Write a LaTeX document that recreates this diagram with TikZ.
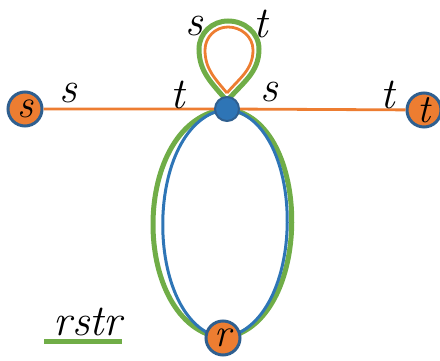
\documentclass[tikz,border=0pt]{standalone}
\usepackage{fontspec}
\definecolor{myorange}{HTML}{ED7D31}
\definecolor{myblue}{HTML}{2E75B6}
\definecolor{mydark}{HTML}{2F5F8F}
\definecolor{mygreen}{HTML}{70AD47}
\begin{document}
\begin{tikzpicture}[x=1pt,y=1pt,
  vert/.style={circle,draw=mydark,fill=myorange,line width=3pt,minimum size=34pt,inner sep=0pt,font=\fontsize{40}{40}\selectfont\itshape},
  hub/.style={circle,draw=mydark,fill=myblue,line width=2pt,minimum size=24pt,inner sep=0pt},
  lab/.style={font=\fontsize{44}{44}\selectfont\itshape,inner sep=0pt},
  oline/.style={draw=myorange,line width=2.8pt},
  gline/.style={draw=mygreen,line width=5pt},
  bline/.style={draw=myblue,line width=3pt}]
\useasboundingbox (0,0) rectangle (440,361);
\coordinate (cc) at (227,252);
\coordinate (rr) at (223,23);
% green lens
\draw[gline] (cc) .. controls (129,243) and (129,34) .. (rr);
\draw[gline] (cc) .. controls (314,243) and (314,34) .. (rr);
% blue lens
\draw[bline] (cc) .. controls (142,241) and (142,36) .. (rr);
\draw[bline] (cc) .. controls (308,241) and (308,36) .. (rr);
% top loops
\coordinate (gp) at (227,260);
\draw[gline,line join=miter] (gp) to[out=130,in=-90] (199,312) to[out=90,in=180] (228,340) to[out=0,in=90] (259,312) to[out=-90,in=50] (gp);
\coordinate (op) at (227,268);
\draw[oline,line join=miter] (op) to[out=130,in=-90] (205,311) to[out=90,in=180] (228,334) to[out=0,in=90] (253,311) to[out=-90,in=50] (op);
% nodes
\node[vert] (s) at (25,252) {s};
\node[vert] (t) at (424,251) {t};
\node[vert] (r) at (223,23) {r};
\draw[oline] (s) -- (cc) -- (t);
\node[hub] (c) at (cc) {};
% labels
\node[lab] (l1) at (68,268) {s};
\node[lab] (l2) at (178,266) {t};
\node[lab] (l3) at (269,269) {s};
\node[lab] (l4) at (388,266) {t};
\node[lab] (l5) at (194,335) {s};
\node[lab] (l6) at (261,337) {t};
\node[lab] (leg) at (88,39) {rstr};
\coordinate (g1) at (44,19);
\coordinate (g2) at (122,19);
\draw[gline] (g1) -- (g2);
\end{tikzpicture}
\end{document}
